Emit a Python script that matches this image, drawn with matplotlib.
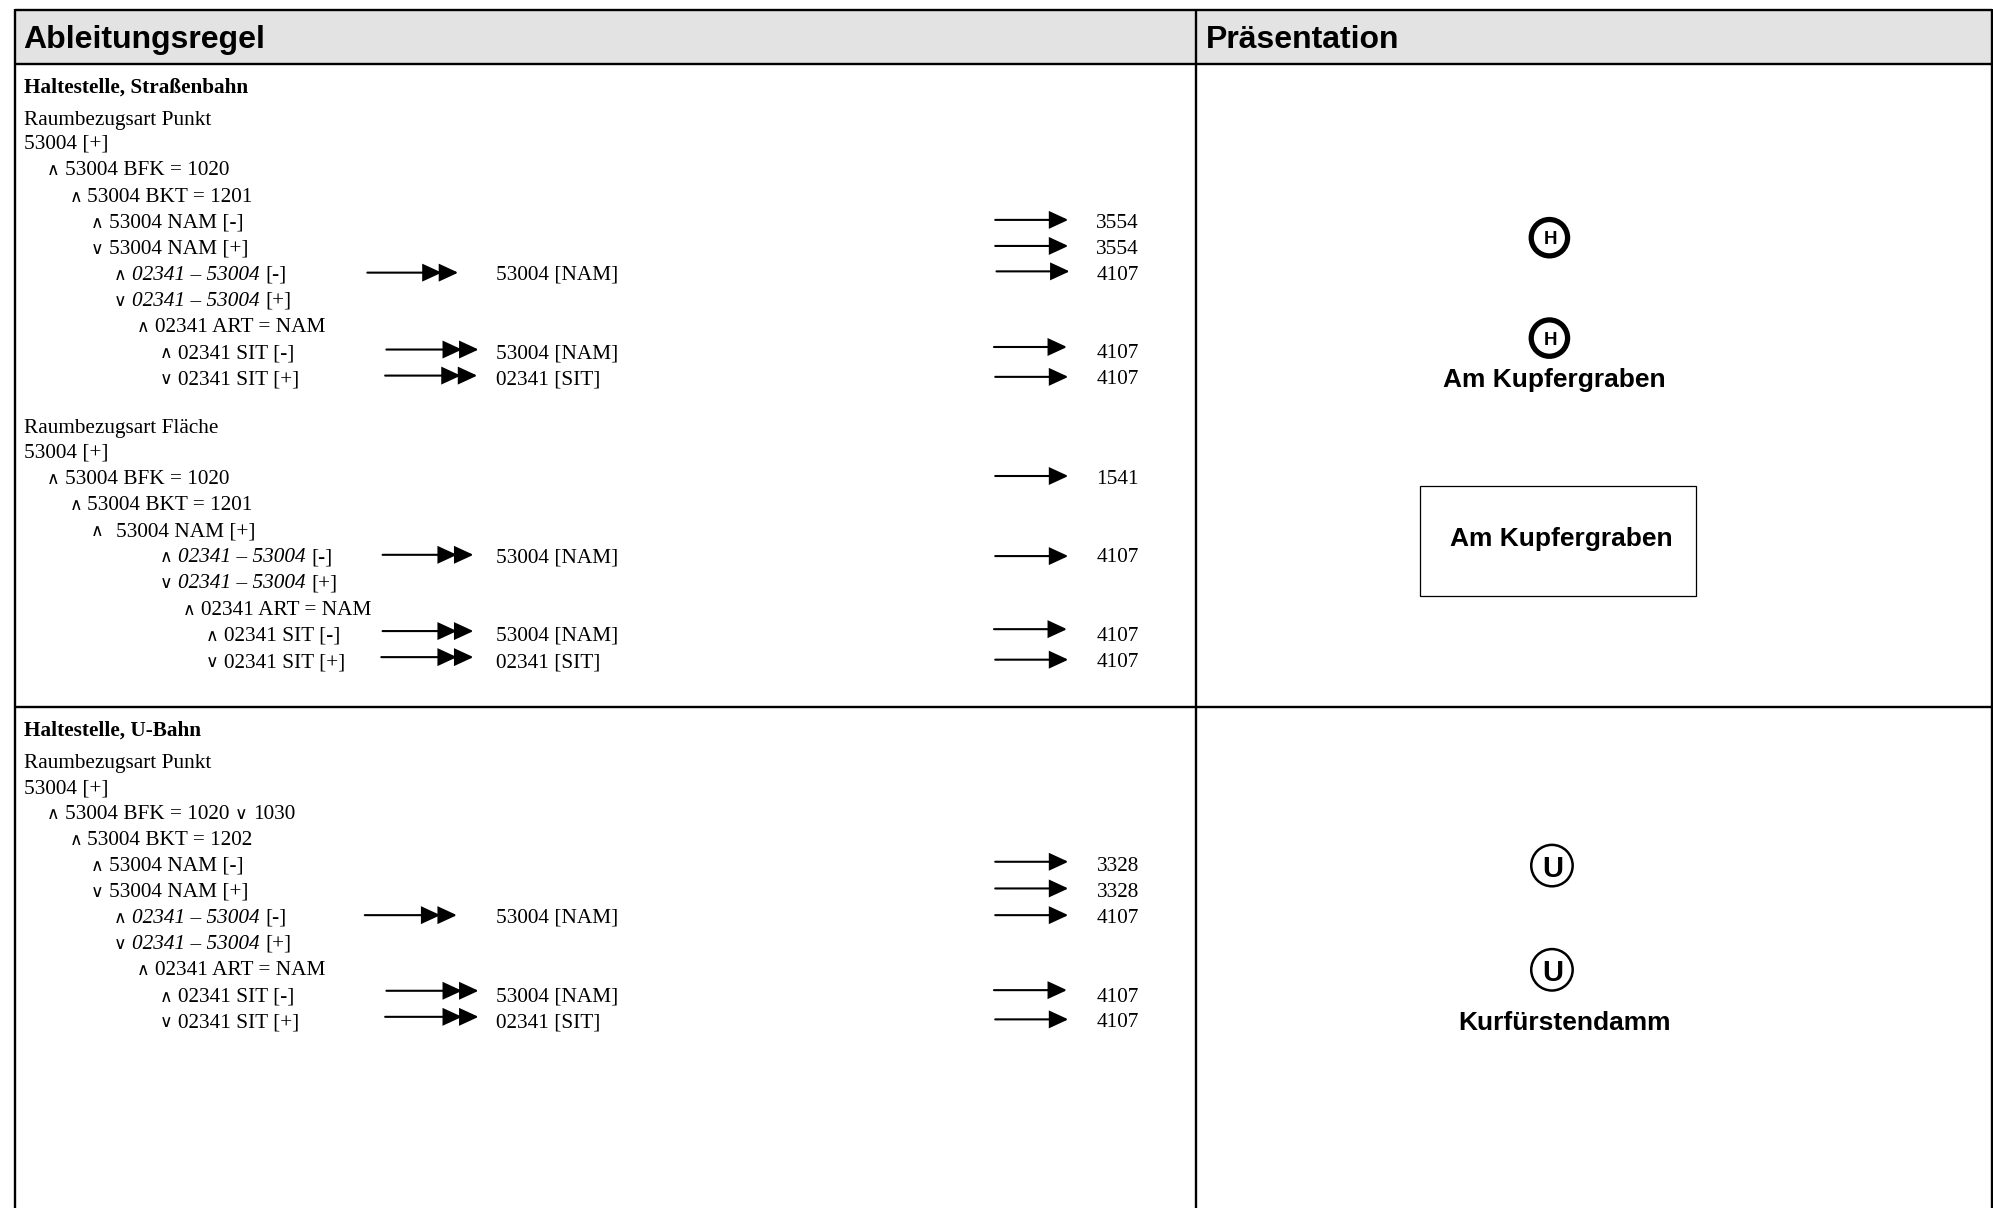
import matplotlib
matplotlib.use("Agg")
import matplotlib.pyplot as plt
from matplotlib.patches import Rectangle, Circle

SERIF = "Liberation Serif"
SANS = "Liberation Sans"

HEADERS = ["Ableitungsregel", "Präsentation"]
SECTION_TITLES = ["Haltestelle, Straßenbahn", "Haltestelle, U-Bahn"]
SECTION_TITLE_Y = [68, 574]

# plain text rows: label, x, y
PLAIN_LABELS = ["Raumbezugsart Punkt", "53004 [+]", "Raumbezugsart Fläche", "53004 [+]",
                "Raumbezugsart Punkt", "53004 [+]"]
PLAIN_Y = [93, 112, 336, 355, 599, 619]

# rule rows: operator, text ("a|b" = italic a then upright b)
OPS_A = ["∧", "∧", "∧", "∨", "∧", "∨", "∧", "∧", "∨"]
TEXT_A = ["53004 BFK = 1020", "53004 BKT = 1201", "53004 NAM [-]", "53004 NAM [+]",
          "02341 – 53004|[-]", "02341 – 53004|[+]", "02341 ART = NAM", "02341 SIT [-]", "02341 SIT [+]"]
OPX_A = [37, 55, 72, 72, 90, 90, 108, 126, 126]
TXX_A = [51, 68.5, 86, 86, 104, 104, 122, 140, 140]
Y_A = [133, 154, 174, 194.5, 215, 235.5, 256, 277, 297.5]

OPS_B = ["∧", "∧", "∧", "∧", "∨", "∧", "∧", "∨"]
TEXT_B = ["53004 BFK = 1020", "53004 BKT = 1201", "53004 NAM [+]", "02341 – 53004|[-]",
          "02341 – 53004|[+]", "02341 ART = NAM", "02341 SIT [-]", "02341 SIT [+]"]
OPX_B = [37, 55, 72, 126, 126, 144, 162, 162]
TXX_B = [51, 68.5, 91, 140, 140, 158, 176, 176]
Y_B = [375.5, 396.5, 417, 437.5, 458, 478.5, 499, 520]

OPS_C = ["∧", "∧", "∧", "∨", "∧", "∨", "∧", "∧", "∨"]
TEXT_C = ["53004 BFK = 1020", "53004 BKT = 1202", "53004 NAM [-]", "53004 NAM [+]",
          "02341 – 53004|[-]", "02341 – 53004|[+]", "02341 ART = NAM", "02341 SIT [-]", "02341 SIT [+]"]
OPX_C = OPX_A
TXX_C = TXX_A
Y_C = [639, 660, 680, 700.5, 721, 741.5, 762, 783, 803]

# target column
TARGET_LABELS = ["53004 [NAM]", "53004 [NAM]", "02341 [SIT]", "53004 [NAM]", "53004 [NAM]", "02341 [SIT]",
                 "53004 [NAM]", "53004 [NAM]", "02341 [SIT]"]
TARGET_Y = [215, 277, 297.5, 437.5, 499, 520, 721, 783, 803]

CODE_LABELS = ["3554", "3554", "4107", "4107", "4107", "1541", "4107", "4107", "4107",
               "3328", "3328", "4107", "4107", "4107"]
CODE_Y = [174, 194.5, 215, 277, 297.5, 375.5, 437.5, 499, 520, 680, 700.5, 721, 783, 803]

# arrows
SINGLE_X0 = [783, 783, 784, 782, 783, 783, 783, 782, 783, 783, 783, 783, 782, 783]
SINGLE_X1 = [840, 840, 841, 839, 840, 840, 840, 839, 840, 840, 840, 840, 839, 840]
SINGLE_Y = [173, 193.5, 213.5, 273, 296.5, 374.5, 437.5, 495, 519, 678, 699, 720, 779, 802]
DOUBLE_X0 = [289, 304, 303, 301, 301, 300, 287, 304, 303]
DOUBLE_X1 = [360, 376, 375, 372, 372, 372, 359, 376, 376]
DOUBLE_Y = [214.5, 275, 295.5, 436.5, 496.5, 517, 720, 779.5, 800]

# map labels
LABELS = ["Am Kupfergraben", "Am Kupfergraben", "Kurfürstendamm"]
LABEL_X = [1135, 1141, 1147]
LABEL_Y = [298, 423, 804]
H_Y = [187, 266]
U_Y = [681, 763]

W, H = 1568, 950.4
fig = plt.figure(figsize=(19.93, 12.08), dpi=100)
ax = fig.add_axes([0, 0, 1, 1])
ax.set_xlim(0, W)
ax.set_ylim(H, 0)
ax.axis("off")

FS = 15.35
BASE = 5.0


def t(x, y, s, **kw):
    kw.setdefault("family", SERIF)
    kw.setdefault("fontsize", FS)
    kw.setdefault("va", "baseline")
    kw.setdefault("color", "black")
    return ax.text(x, y + BASE, s, **kw)


# frame
ax.add_patch(Rectangle((11.5, 7.5), W - 1 - 11.5, 42.5, fc="#e3e3e3", ec="none"))
LW = 1.7
ax.plot([11.5, 1567], [7.5, 7.5], color="k", lw=LW, solid_capstyle="butt")
ax.plot([11.5, 1567], [50, 50], color="k", lw=LW, solid_capstyle="butt")
ax.plot([11.5, 1567], [556, 556], color="k", lw=LW, solid_capstyle="butt")
for x in [11.5, 941, 1567]:
    ax.plot([x, x], [7, H], color="k", lw=LW, solid_capstyle="butt")

ax.text(18.5, 38, HEADERS[0], family=SANS, weight="bold", fontsize=23, va="baseline")
ax.text(948.5, 38, HEADERS[1], family=SANS, weight="bold", fontsize=23, va="baseline")

for s, y in zip(SECTION_TITLES, SECTION_TITLE_Y):
    t(18.5, y, s, weight="bold")
for s, y in zip(PLAIN_LABELS, PLAIN_Y):
    t(18.5, y, s)

renderer = fig.canvas.get_renderer()
inv = ax.transData.inverted()


def rule_rows(ops, texts, opx, txx, ys):
    for op, s, ox, tx, y in zip(ops, texts, opx, txx, ys):
        t(ox - 0.5, y, op, family=["DejaVu Sans"], fontsize=12.5)
        if "|" in s:
            a, b = s.split("|")
            it = t(tx, y, a, style="italic")
            bb = it.get_window_extent(renderer)
            xe = inv.transform((bb.x1, bb.y0))[0]
            t(xe + 4.5, y, b)
        else:
            t(tx, y, s)


rule_rows(OPS_A, TEXT_A, OPX_A, TXX_A, Y_A)
rule_rows(OPS_B, TEXT_B, OPX_B, TXX_B, Y_B)
rule_rows(OPS_C, TEXT_C, OPX_C, TXX_C, Y_C)
# second operator on the U-Bahn BFK row
t(184.5, 639, "∨", family=["DejaVu Sans"], fontsize=12.5)
t(199, 639, "1030")

for s, y in zip(TARGET_LABELS, TARGET_Y):
    t(390, y, s)
for s, y in zip(CODE_LABELS, CODE_Y):
    t(896, y, s, ha="right")

HEAD = "-|>,head_length=11.5,head_width=5.3"


def arrow(x0, x1, y):
    ax.annotate("", xy=(x1, y), xytext=(x0, y),
                arrowprops=dict(arrowstyle=HEAD, color="k", lw=1.5, shrinkA=0, shrinkB=0,
                                mutation_scale=1, joinstyle="miter"))


for x0, x1, y in zip(SINGLE_X0, SINGLE_X1, SINGLE_Y):
    arrow(x0, x1 + 0.5, y)
for x0, x1, y in zip(DOUBLE_X0, DOUBLE_X1, DOUBLE_Y):
    arrow(x0, x1 - 12.5, y)
    arrow(x1 - 14, x1 + 0.5, y)

# map symbols
for y in H_Y:
    ax.add_patch(Circle((1219, y), 14.3, fc="white", ec="k", lw=3.8))
    ax.text(1219.5, y, "H", family=SANS, weight="bold", fontsize=13.5, ha="center", va="center_baseline")
for y in U_Y:
    ax.add_patch(Circle((1221, y), 16.3, fc="white", ec="k", lw=1.8))
    ax.text(1221.5, y + 0.3, "U", family=SANS, weight="bold", fontsize=21, ha="center", va="center_baseline")

ax.add_patch(Rectangle((1117, 382), 217.5, 87, fc="none", ec="k", lw=0.9))
for s, x, y in zip(LABELS, LABEL_X, LABEL_Y):
    ax.text(x, y + 6.6, s, family=SANS, weight="bold", fontsize=19, va="baseline")

fig.savefig("out.png", dpi=100)
